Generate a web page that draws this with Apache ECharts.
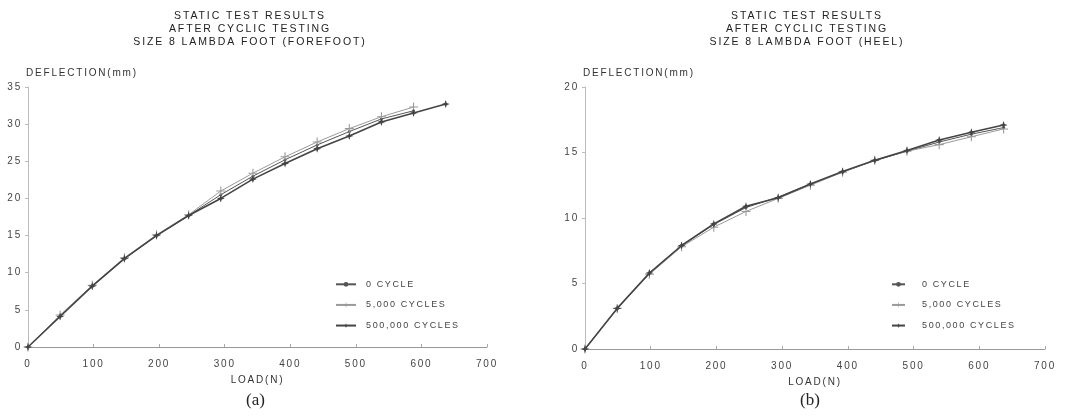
<!DOCTYPE html>
<html>
<head>
<meta charset="utf-8">
<script src="https://cdn.jsdelivr.net/npm/echarts@6/dist/echarts.min.js"></script>
<style>
html,body{margin:0;padding:0;background:#fff;}
#c{width:1074px;height:417px;}
</style>
</head>
<body>
<div id="c"></div>
<script>
// ---- data ----
const loads = [0, 49, 98, 147, 196, 245, 294, 343, 392, 441, 490, 539, 588, 637];
const xTicks = [0, 100, 200, 300, 400, 500, 600, 700];
const seriesNames = ['0 CYCLE', '5,000 CYCLES', '500,000 CYCLES'];
// (a) forefoot, deflection mm
const foreCycle0   = [0, 4.2, 8.2, 11.9, 15.0, 17.7, 20.5, 23.0, 25.2, 27.2, 29.0, 30.7, 31.8];
const foreCycle5k  = [0, 4.3, 8.3, 12.0, 15.1, 17.8, 21.0, 23.4, 25.6, 27.6, 29.4, 31.0, 32.3];
const foreCycle500k= [0, 4.1, 8.2, 11.9, 15.0, 17.7, 20.0, 22.6, 24.7, 26.7, 28.4, 30.3, 31.5, 32.7];
// (b) heel, deflection mm
const heelCycle0   = [0, 3.1, 5.8, 7.9, 9.5, 10.8, 11.6, 12.6, 13.5, 14.4, 15.1, 15.8, 16.4, 16.9];
const heelCycle5k  = [0, 3.1, 5.7, 7.8, 9.3, 10.5, 11.5, 12.5, 13.5, 14.4, 15.1, 15.6, 16.2, 16.8];
const heelCycle500k= [0, 3.1, 5.8, 7.9, 9.55, 10.9, 11.55, 12.6, 13.55, 14.4, 15.15, 15.95, 16.55, 17.1];
const titleA = 'STATIC TEST RESULTS\nAFTER CYCLIC TESTING\nSIZE 8 LAMBDA FOOT (FOREFOOT)';
const titleB = 'STATIC TEST RESULTS\nAFTER CYCLIC TESTING\nSIZE 8 LAMBDA FOOT (HEEL)';

// plotter-style letter spacing for sans text
(function(){
  const P = CanvasRenderingContext2D.prototype;
  function sp(ctx){
    const f = ctx.font || '';
    const m = f.match(/([\d.]+)px/);
    const s = m ? parseFloat(m[1]) : 12;
    const serif = /Serif/i.test(f) && !/Sans/i.test(f);
    try { ctx.letterSpacing = serif ? '0px' : (s*0.18).toFixed(2) + 'px'; } catch(e){}
  }
  const ft = P.fillText, mt = P.measureText;
  P.fillText = function(){ sp(this); return ft.apply(this, arguments); };
  P.measureText = function(){ sp(this); return mt.apply(this, arguments); };
})();

const FONT = 'Liberation Sans';
const pts = (ys) => ys.map((y, i) => [loads[i], y]);
const plusPath = 'path://M4.4,0H5.6V4.4H10V5.6H5.6V10H4.4V5.6H0V4.4H4.4Z';
const starPath = 'path://M5,0L6.3,3.7L10,5L6.3,6.3L5,10L3.7,6.3L0,5L3.7,3.7Z';

function mkSeries(idx, data){
  const styles = [
    {color:'#555', width:1, symbol:'circle', size:3},
    {color:'#9a9a9a', width:1, symbol:plusPath, size:9},
    {color:'#444', width:1.6, symbol:starPath, size:8}
  ][idx];
  return {
    type:'line', name:seriesNames[idx], xAxisIndex:data.g, yAxisIndex:data.g,
    data:pts(data.v), symbol:styles.symbol, symbolSize:styles.size, showSymbol:true,
    lineStyle:{color:styles.color, width:styles.width},
    itemStyle:{color:styles.color}, animation:false, z: idx===2?3:2
  };
}

const axisText = {color:'#444', fontFamily:FONT, fontSize:10};
function xAx(g){
  return {
    type:'value', gridIndex:g, min:0, max:700, interval:100,
    name:'LOAD(N)', nameLocation:'middle', nameGap:24,
    nameTextStyle:{color:'#333', fontFamily:FONT, fontSize:10},
    axisLine:{lineStyle:{color:'#999', width:1}},
    axisTick:{inside:true, length:3, lineStyle:{color:'#aaa'}},
    axisLabel:Object.assign({margin:11}, axisText),
    splitLine:{show:false}
  };
}
function yAx(g, max){
  return {
    type:'value', gridIndex:g, min:0, max:max, interval:5,
    name:'DEFLECTION(mm)', nameLocation:'end', nameGap:8,
    nameTextStyle:{color:'#333', fontFamily:FONT, fontSize:10, align:'left', padding:[0,0,0,-2]},
    axisLine:{show:true, lineStyle:{color:'#bbb', width:1}},
    axisTick:{show:true, length:3, lineStyle:{color:'#bbb'}},
    axisLabel:Object.assign({margin:6}, axisText),
    splitLine:{show:false}
  };
}

function legend(left, iw, pad){
  return {
    orient:'vertical', left:left - 5, top:274, padding:5, itemWidth:iw, itemHeight:6, itemGap:10,
    data:seriesNames,
    textStyle:{color:'#444', fontFamily:FONT, fontSize:9, padding:[0,0,0,pad]}
  };
}

const chart = echarts.init(document.getElementById('c'), null, {renderer:'canvas'});
chart.setOption({
  backgroundColor:'#fff',
  animation:false,
  title:[
    {text:titleA, left:245, top:5, textAlign:'center',
     textStyle:{color:'#222', fontFamily:FONT, fontSize:10.5, fontWeight:'normal', lineHeight:13}},
    {text:titleB, left:802, top:5, textAlign:'center',
     textStyle:{color:'#222', fontFamily:FONT, fontSize:10.5, fontWeight:'normal', lineHeight:13}}
  ],
  grid:[
    {left:28, right:1074-487, top:87, bottom:417-347, containLabel:false},
    {left:585, right:1074-1045, top:87, bottom:417-349, containLabel:false}
  ],
  xAxis:[xAx(0), xAx(1)],
  yAxis:[yAx(0, 35), yAx(1, 20)],
  legend:[legend(335, 20, 5), legend(891, 13, 12)],
  series:[
    mkSeries(0, {g:0, v:foreCycle0}),
    mkSeries(1, {g:0, v:foreCycle5k}),
    mkSeries(2, {g:0, v:foreCycle500k}),
    mkSeries(0, {g:1, v:heelCycle0}),
    mkSeries(1, {g:1, v:heelCycle5k}),
    mkSeries(2, {g:1, v:heelCycle500k})
  ],
  graphic:[
    {type:'text', left:246, top:392, style:{text:'(a)', font:'17px "Liberation Serif"', fill:'#222'}},
    {type:'text', left:800, top:392, style:{text:'(b)', font:'17px "Liberation Serif"', fill:'#222'}}
  ]
});
</script>
</body>
</html>
